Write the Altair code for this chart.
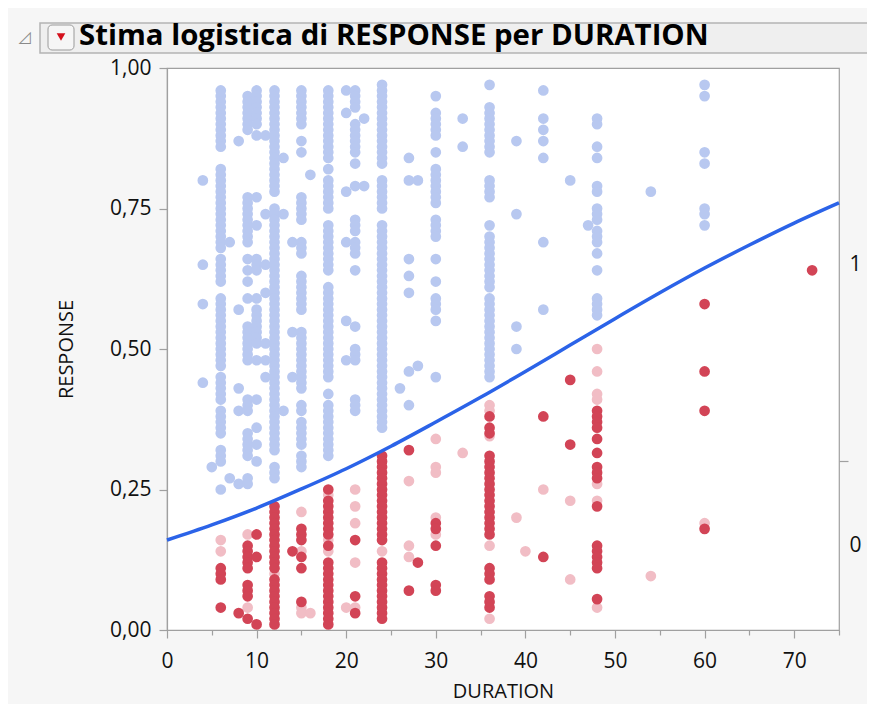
import altair as alt
import pandas as pd

TITLE = "Stima logistica di RESPONSE per DURATION"

# RESPONSE = 1 points (light blue), heights in percent
blue_durations = [4, 5, 6, 7, 8, 9, 10, 11, 12, 13, 14, 15, 16, 18, 20, 21, 22, 24,
                  26, 27, 28, 30, 33, 36, 39, 42, 45, 47, 48, 54, 60]
blue_heights = [
    [80, 65, 58, 44],
    [29],
    [96, 95, 94, 93, 92, 91, 90, 89, 88, 87, 86, 82, 81, 80, 79, 78, 77, 76, 75, 74, 73, 72,
     71, 70, 69, 68, 66, 65, 64, 63, 62, 59, 58, 57, 56, 55, 54, 53, 52, 51, 50, 49, 48, 47,
     45, 44, 43, 42, 41, 39, 38, 37, 36, 35, 32, 31, 30, 25],
    [69, 27],
    [87, 57, 43, 39, 26],
    [95, 94, 93, 92, 91, 90, 89, 77, 76, 75, 74, 73, 72, 71, 70, 69, 66, 64, 62, 59, 54, 53,
     52, 51, 50, 49, 48, 41, 40, 39, 35, 34, 33, 32, 31, 27, 26],
    [96, 95, 94, 93, 92, 91, 90, 88, 77, 72, 66, 65, 64, 59, 57, 56, 55, 54, 53, 52, 51, 48,
     41, 36, 33, 30],
    [88, 74, 65, 60, 51, 48, 45],
    [96, 95, 94, 93, 92, 91, 90, 89, 88, 87, 86, 85, 84, 83, 82, 81, 80, 79, 78, 75, 74, 73,
     72, 71, 70, 69, 68, 67, 66, 65, 64, 63, 62, 61, 60, 59, 58, 57, 56, 55, 54, 53, 52, 51,
     50, 49, 48, 47, 46, 45, 44, 43, 42, 41, 40, 39, 38, 37, 36, 35, 34, 33, 32, 29, 28, 27],
    [84, 74, 39],
    [69, 53, 45],
    [96, 95, 94, 93, 92, 91, 90, 87, 85, 77, 76, 75, 74, 73, 69, 68, 67, 63, 62, 61, 60, 59,
     58, 57, 53, 52, 51, 50, 49, 48, 47, 46, 45, 44, 43, 40, 39, 37, 36, 35, 34, 33, 31, 30, 29],
    [81],
    [96, 95, 94, 93, 92, 91, 90, 89, 88, 87, 86, 85, 84, 82, 80, 79, 78, 77, 76, 75, 72, 71,
     70, 69, 68, 67, 66, 65, 64, 61, 60, 59, 58, 57, 56, 55, 54, 53, 52, 51, 50, 49, 48, 47,
     46, 45, 42, 40, 39, 38, 37, 36, 35, 34, 33, 32, 31],
    [96, 92, 78, 69, 55, 48],
    [96, 95, 94, 93, 90, 89, 88, 87, 86, 85, 83, 79, 73, 72, 71, 69, 68, 67, 64, 54, 50, 49,
     48, 41, 40, 39],
    [91, 79],
    [97, 96, 95, 94, 93, 92, 91, 90, 89, 88, 87, 86, 85, 84, 83, 80, 79, 78, 77, 76, 75, 72,
     71, 70, 69, 68, 67, 66, 65, 64, 63, 62, 61, 60, 59, 58, 57, 56, 55, 54, 53, 52, 51, 50,
     49, 48, 47, 46, 45, 44, 43, 42, 41, 40, 39, 38, 37, 36],
    [43],
    [84, 80, 66, 63, 60, 46, 40],
    [80, 47],
    [95, 92, 91, 90, 89, 88, 85, 82, 81, 80, 79, 78, 77, 76, 73, 72, 71, 70, 66, 62, 59, 58,
     57, 55, 45],
    [91, 86],
    [97, 93, 92, 91, 90, 89, 88, 87, 86, 85, 80, 79, 78, 77, 72, 70, 69, 68, 67, 66, 65, 64,
     63, 62, 61, 59, 58, 57, 56, 55, 54, 53, 52, 51, 50, 49, 48, 47, 46, 45],
    [87, 74, 54, 50],
    [96, 91, 89, 87, 84, 69, 57],
    [80],
    [72],
    [91, 90, 86, 84, 79, 78, 75, 74, 73, 71, 70, 69, 67, 64, 59, 58, 57, 56],
    [78],
    [97, 95, 85, 83, 75, 74, 72],
]

# RESPONSE = 0 points, light pink
pink_durations = [6, 9, 12, 15, 16, 18, 20, 21, 24, 27, 30, 33, 36, 39, 40, 42, 45, 48, 54, 60]
pink_heights = [
    [16, 14],
    [17, 4],
    [10],
    [21, 14, 4, 3],
    [3],
    [24, 16, 14],
    [4],
    [25, 22, 19, 12, 4],
    [14],
    [26.5, 15, 13],
    [34, 29, 28, 20, 17],
    [31.5],
    [40, 39, 34.5, 15, 2],
    [20],
    [14],
    [25],
    [23, 9],
    [50, 46, 42, 41, 26, 23, 4],
    [9.6],
    [19],
]

# RESPONSE = 0 points, dark red
red_durations = [6, 8, 9, 10, 12, 14, 15, 18, 21, 24, 27, 28, 30, 36, 42, 45, 48, 60, 72]
red_heights = [
    [11, 10, 9, 4],
    [3],
    [15, 14, 13, 12, 11, 8, 7, 6, 2],
    [17, 13, 1],
    [22, 21, 20, 19, 18, 17, 16, 15, 14, 13, 12, 11, 9, 8, 7, 6, 5, 4, 3, 2, 1],
    [14],
    [18, 17, 16, 13, 11, 5],
    [25, 23, 22, 21, 20, 19, 18, 17, 15, 12, 11, 10, 9, 8, 7, 6, 5, 4, 3, 2, 1],
    [16, 6, 3],
    [31, 30, 29, 28, 27, 26, 25, 24, 23, 22, 21, 20, 19, 18, 17, 16, 12, 11, 10, 9, 8, 7, 6,
     5, 4, 3, 2],
    [32, 7],
    [12],
    [19, 18, 15, 8, 7],
    [38, 36, 35, 31, 30, 29, 28, 27, 26, 25, 24, 23, 22, 21, 20, 19, 18, 17, 11, 10, 9, 6, 5, 4],
    [38, 13],
    [44.5, 33],
    [39, 38, 37, 36, 34, 31.5, 29, 28, 27, 22, 15, 14, 13, 12, 11, 5.5],
    [58, 46, 39, 18],
    [64],
]

# fitted logistic curve
curve_duration = [0, 5, 10, 15, 20, 25, 30, 35, 40, 45, 50, 55, 60, 65, 70, 75]
curve_prob = [0.160, 0.187, 0.217, 0.251, 0.287, 0.327, 0.370, 0.414, 0.460, 0.507,
              0.554, 0.600, 0.644, 0.685, 0.724, 0.760]

x_ticks = [0, 5, 10, 15, 20, 25, 30, 35, 40, 45, 50, 55, 60, 65, 70, 75]
y_ticks = [0, 0.25, 0.5, 0.75, 1.0]
right_ticks = [0.15, 0.30, 0.65]

rows = []
for grp, durs, hts in (("blue", blue_durations, blue_heights),
                       ("pink", pink_durations, pink_heights),
                       ("red", red_durations, red_heights)):
    for d, hs in zip(durs, hts):
        for h in hs:
            rows.append({"DURATION": d, "RESPONSE": h / 100.0, "grp": grp})
df = pd.DataFrame(rows)
curve_df = pd.DataFrame({"DURATION": curve_duration, "p": curve_prob})

W, H = 672, 562
FONT = "Open Sans"
xs = alt.Scale(domain=[0, 75], nice=False, zero=False)
ys = alt.Scale(domain=[0, 1], nice=False)

x_axis = alt.Axis(
    values=x_ticks, title="DURATION",
    labelExpr="datum.value % 10 === 0 ? datum.value : ''",
    tickSize={"condition": {"test": "datum.value % 10 === 0", "value": 8}, "value": 5},
    labelPadding=12, titlePadding=10, grid=False, labelFlush=False)

points = alt.Chart(df).mark_circle(size=115, opacity=1).encode(
    x=alt.X("DURATION:Q", scale=xs, axis=x_axis),
    y=alt.Y("RESPONSE:Q", scale=ys, axis=alt.Axis(
        values=y_ticks, title="RESPONSE",
        labelExpr="replace(format(datum.value, '.2f'), '.', ',')",
        tickSize=8, labelPadding=8, titlePadding=33, grid=False, labelFlush=False)),
    color=alt.Color("grp:N", scale=alt.Scale(domain=["blue", "pink", "red"],
                                             range=["#b8c8f0", "#f1bdc5", "#d24456"]),
                    legend=None),
)

curve = alt.Chart(curve_df).mark_line(color="#2b63e8", strokeWidth=3.5,
                                      interpolate="monotone").encode(
    x=alt.X("DURATION:Q", scale=xs, axis=x_axis),
    y=alt.Y("p:Q", scale=ys, axis=alt.Axis(
        orient="right", values=right_ticks, title=None, grid=False, domain=False,
        labelExpr="datum.value === 0.3 ? '' : (datum.value < 0.3 ? '0' : '1')",
        tickOpacity={"condition": {"test": "datum.value === 0.3", "value": 1}, "value": 0},
        tickSize=9, labelPadding=1, labelFlush=False)),
)

one = pd.DataFrame({"t": [TITLE]})
bar = alt.Chart(one).mark_rect(fill="#efefef", stroke="#b4b4b4", strokeWidth=1.5).encode(
    x=alt.value(-127), x2=alt.value(720), y=alt.value(-45), y2=alt.value(-15))
button = alt.Chart(one).mark_rect(fill="#f6f6f6", stroke="#9a9a9a", cornerRadius=4).encode(
    x=alt.value(-119), x2=alt.value(-93), y=alt.value(-43), y2=alt.value(-18))
tri = alt.Chart(one).mark_point(shape="triangle-down", filled=True, color="#d4101c",
                                size=75, opacity=1).encode(
    x=alt.value(-106), y=alt.value(-31))
disclose = alt.Chart(one).mark_text(text="\u25FF", fontSize=16, color="#8a8a8a",
                                    font="DejaVu Sans").encode(
    x=alt.value(-142), y=alt.value(-31))
title = alt.Chart(one).mark_text(align="left", baseline="alphabetic", fontSize=29.4,
                                 fontWeight="bold", font=FONT, color="#000000").encode(
    x=alt.value(-88), y=alt.value(-23), text="t:N")

chart = alt.layer(points, curve, bar, button, tri, disclose, title).resolve_scale(
    y="independent"
).properties(
    width=W, height=H,
    padding={"left": 159, "top": 60, "right": 28, "bottom": 74},
    autosize=alt.AutoSizeParams(type="none"),
    background="#f6f6f6",
).configure_view(
    stroke="#a0a0a0", strokeWidth=1.2, fill="white"
).configure_axis(
    labelFont=FONT, titleFont=FONT, labelFontSize=21, titleFontSize=20,
    labelColor="#111111", titleColor="#111111", titleFontWeight="normal",
    domainColor="#a0a0a0", tickColor="#a0a0a0", domainWidth=1.2, tickWidth=1.2,
)

chart.save("out.html", embed_options={"renderer": "svg", "actions": False})
